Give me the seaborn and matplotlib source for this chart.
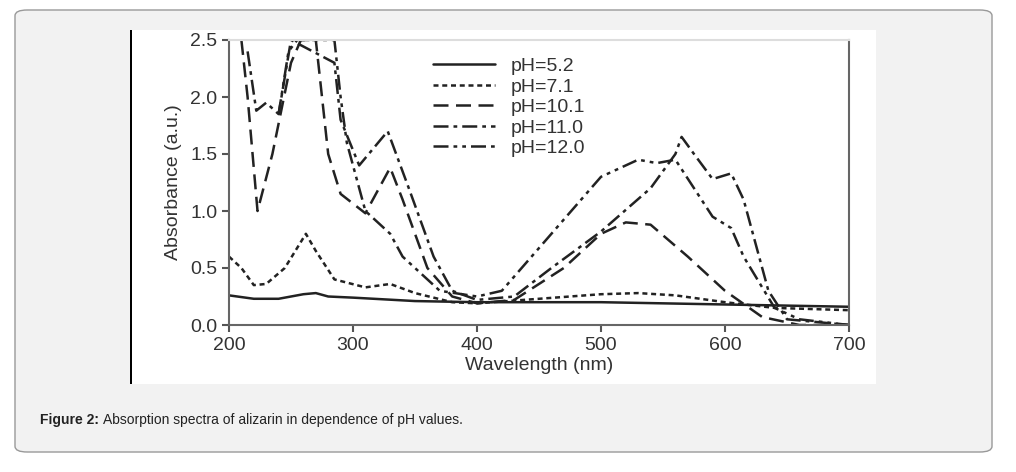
import numpy as np
import pandas as pd
import seaborn as sns
import matplotlib.pyplot as plt
from matplotlib.patches import FancyBboxPatch, Rectangle

sns.set_theme(style="white")
plt.rcParams['font.family'] = ['Liberation Sans', 'DejaVu Sans']

# data
wl_52 = [200, 220, 240, 260, 270, 280, 300, 350, 400, 500, 600, 700]
ab_52 = [0.26, 0.23, 0.23, 0.27, 0.28, 0.25, 0.24, 0.21, 0.20, 0.20, 0.18, 0.16]

wl_71 = [200, 210, 220, 230, 245, 262, 270, 285, 310, 330, 350, 380, 400, 450, 500, 530, 560, 600, 640, 700]
ab_71 = [0.60, 0.50, 0.35, 0.36, 0.50, 0.80, 0.65, 0.40, 0.33, 0.36, 0.28, 0.20, 0.19, 0.23, 0.27, 0.28, 0.26, 0.20, 0.15, 0.13]

wl_101 = [210, 215, 223, 235, 250, 258, 270, 280, 290, 310, 330, 340, 360, 380, 400, 430, 470, 500, 520, 540, 570, 600, 630, 660, 700]
ab_101 = [2.5, 2.0, 1.0, 1.5, 2.3, 2.5, 2.5, 1.5, 1.15, 0.98, 1.38, 1.1, 0.5, 0.25, 0.19, 0.22, 0.5, 0.8, 0.9, 0.88, 0.6, 0.3, 0.07, 0.0, 0.0]

wl_110 = [215, 222, 230, 240, 250, 285, 290, 305, 328, 345, 365, 380, 400, 430, 460, 500, 540, 560, 565, 575, 590, 605, 615, 635, 650, 700]
ab_110 = [2.4, 1.88, 1.95, 1.85, 2.5, 2.3, 1.8, 1.4, 1.7, 1.2, 0.6, 0.3, 0.22, 0.25, 0.5, 0.82, 1.2, 1.5, 1.65, 1.5, 1.28, 1.33, 1.1, 0.3, 0.05, 0.0]

wl_120 = [240, 248, 255, 285, 290, 295, 310, 330, 340, 370, 400, 420, 460, 500, 530, 545, 560, 575, 590, 605, 615, 640, 660, 700]
ab_120 = [1.85, 2.4, 2.5, 2.5, 2.0, 1.6, 1.0, 0.8, 0.6, 0.3, 0.25, 0.3, 0.8, 1.3, 1.45, 1.42, 1.45, 1.2, 0.95, 0.85, 0.6, 0.15, 0.05, 0.0]

labels = ['pH=5.2', 'pH=7.1', 'pH=10.1', 'pH=11.0', 'pH=12.0']
series = [(wl_52, ab_52), (wl_71, ab_71), (wl_101, ab_101), (wl_110, ab_110), (wl_120, ab_120)]
styles = ['-', (0, (2, 1.5)), (0, (6, 3)), (0, (6, 2, 1.5, 2)), (0, (6, 2, 1.5, 2, 1.5, 2))]

fig = plt.figure(figsize=(10.16, 4.72), dpi=100)
fig.patch.set_facecolor('white')
# outer caption box
fig.patches.append(FancyBboxPatch((15 / 1016, 1 - 452 / 472), 977 / 1016, 442 / 472,
                                  boxstyle="round,pad=0,rounding_size=0.012",
                                  transform=fig.transFigure, facecolor='#f2f2f2',
                                  edgecolor='#999999', lw=1, zorder=-3))
# white image area
fig.patches.append(Rectangle((130 / 1016, 1 - 384 / 472), 746 / 1016, 354 / 472,
                             transform=fig.transFigure, facecolor='white', edgecolor='none',
                             zorder=-2))
fig.patches.append(Rectangle((130 / 1016, 1 - 384 / 472), 2 / 1016, 354 / 472,
                             transform=fig.transFigure, facecolor='black', edgecolor='none',
                             zorder=-1))

ax = fig.add_axes([229 / 1016, 1 - 325 / 472, 620 / 1016, 285 / 472])
ax.set_facecolor('white')
for (x, y), lab, ls in zip(series, labels, styles):
    df = pd.DataFrame({'wl': x, 'ab': y})
    sns.lineplot(data=df, x='wl', y='ab', ax=ax, color='#222222', lw=1.8,
                 linestyle=ls, label=lab, sort=False)

ax.set_xlim(200, 700)
ax.set_ylim(0, 2.5)
ax.set_xticks([200, 300, 400, 500, 600, 700])
ax.set_yticks([0, 0.5, 1.0, 1.5, 2.0, 2.5])
ax.set_yticklabels(['0.0', '0.5', '1.0', '1.5', '2.0', '2.5'])
ax.tick_params(direction='out', length=5, width=1.5, colors='#555555', labelsize=14,
               labelcolor='#333333', bottom=True, left=True)
for s in ax.spines.values():
    s.set_color('#666666')
    s.set_linewidth(1.5)
ax.spines['top'].set_color('#dddddd')
ax.set_xlabel('Wavelength (nm)', fontsize=14, color='#333333', labelpad=2)
ax.set_ylabel('Absorbance (a.u.)', fontsize=14, color='#333333', labelpad=6)
leg = ax.legend(loc='upper left', bbox_to_anchor=(0.3, 1.0), frameon=False, fontsize=14,
                handlelength=3.2, labelspacing=0.15, handletextpad=0.8, labelcolor='#333333')

fig.text(40 / 1016, 1 - 420 / 472, 'Figure 2:', fontsize=10, fontweight='bold',
         color='#222222', va='center')
fig.text(103 / 1016, 1 - 420 / 472, 'Absorption spectra of alizarin in dependence of pH values.',
         fontsize=10, color='#222222', va='center')

fig.savefig('out.png', dpi=100)
